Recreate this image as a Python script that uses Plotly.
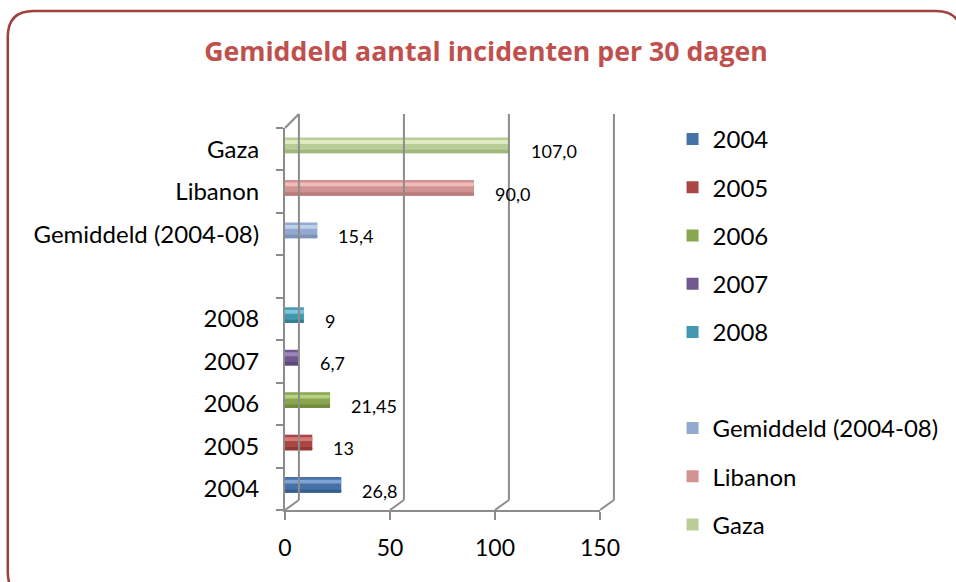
import plotly.graph_objects as go

# ---------------- data ----------------
categories = ["2004", "2005", "2006", "2007", "2008", " ",
              "Gemiddeld (2004-08)", "Libanon", "Gaza"]
series_names = ["2004", "2005", "2006", "2007", "2008",
                "Gemiddeld (2004-08)", "Libanon", "Gaza"]
values = [26.8, 13, 21.45, 6.7, 9, 15.4, 90.0, 107.0]
value_labels = ["26,8", "13", "21,45", "6,7", "9", "15,4", "90,0", "107,0"]
legend_ids = ["legend"] * 5 + ["legend2"] * 3
x_ticks = [0, 50, 100, 150]

# ---------------- styles ----------------
colors = ["#4572A7", "#AA4643", "#89A54E", "#71588F", "#4198AF",
          "#93A9CF", "#D19392", "#B9CD96"]
dark = ["#365E8E", "#8E3936", "#738C40", "#5E4878", "#347F93",
        "#7D93B8", "#B97C7B", "#A0B77E"]
light = ["#7FA3D2", "#D77B78", "#B5D283", "#9C85BA", "#7CC6DA",
         "#BFD0EC", "#EDBDBC", "#DDEBC2"]

FONT = "Lato"
FS = 24
W, H = 956, 582
L, R, T, B = 285, 602, 128, 510
XMAX = 150
DX, DY = 14, 10  # 3-D depth offset of the back wall in px


def px(x):
    return (x - L) / (R - L)


def py(y):
    return (B - y) / (B - T)


fig = go.Figure()

BW = 0.37
BOFF = -BW / 2 + 0.09
for i, (name, val) in enumerate(zip(series_names, values)):
    fig.add_trace(go.Bar(
        y=[name], x=[val], name=name, orientation="h",
        width=BW, offset=BOFF,
        marker=dict(color=colors[i], line=dict(color=colors[i], width=0)),
        legend=legend_ids[i], legendgroup=name, hoverinfo="x+y",
    ))
    # shading bands for a cylinder look
    fig.add_trace(go.Bar(
        y=[name], x=[val], orientation="h", showlegend=False,
        width=0.08, offset=BOFF,
        marker=dict(color=dark[i], line=dict(width=0), cornerradius=2),
        hoverinfo="skip",
    ))
    fig.add_trace(go.Bar(
        y=[name], x=[val], orientation="h", showlegend=False,
        width=0.09, offset=BOFF + BW - 0.15,
        marker=dict(color=light[i], line=dict(width=0), cornerradius=3),
        hoverinfo="skip",
    ))

# value labels
for name, val, lab in zip(series_names, values, value_labels):
    fig.add_annotation(x=val, y=categories.index(name), text=lab, showarrow=False,
                       xanchor="left", yanchor="middle", xshift=19, yshift=-2,
                       font=dict(family=FONT, size=18, color="#000000"))

shapes = []
frame = dict(color="#8C8C8C", width=2)
# back-wall grid lines with floor diagonals
for v in x_ticks:
    xv = L + v / XMAX * (R - L)
    shapes.append(dict(type="line", xref="paper", yref="paper",
                       x0=px(xv), y0=py(B), x1=px(xv + DX), y1=py(B - DY),
                       line=frame))
    shapes.append(dict(type="line", xref="paper", yref="paper",
                       x0=px(xv + DX), y0=py(B - DY), x1=px(xv + DX), y1=py(T - 14),
                       line=frame))
# top-left diagonal of side wall
shapes.append(dict(type="line", xref="paper", yref="paper",
                   x0=px(L), y0=py(T), x1=px(L + DX), y1=py(T - 14),
                   line=frame))

# rounded chart border
bx0, by0, bx1, by1, rr = 6, 11, 966, 598, 26
path = (f"M {px(bx0 + rr)},{py(by0)} L {px(bx1 - rr)},{py(by0)} "
        f"Q {px(bx1)},{py(by0)} {px(bx1)},{py(by0 + rr)} "
        f"L {px(bx1)},{py(by1 - rr)} Q {px(bx1)},{py(by1)} {px(bx1 - rr)},{py(by1)} "
        f"L {px(bx0 + rr)},{py(by1)} Q {px(bx0)},{py(by1)} {px(bx0)},{py(by1 - rr)} "
        f"L {px(bx0)},{py(by0 + rr)} Q {px(bx0)},{py(by0)} {px(bx0 + rr)},{py(by0)} Z")
shapes.append(dict(type="path", xref="paper", yref="paper", path=path,
                   line=dict(color="#A0403D", width=2.5), layer="above"))

fig.update_layout(
    width=W, height=H,
    margin=dict(l=L, r=W - R, t=T, b=H - B, pad=0),
    paper_bgcolor="white", plot_bgcolor="rgba(0,0,0,0)",
    barmode="overlay",
    font=dict(family=FONT, size=FS, color="#000000"),
    title=dict(text="Gemiddeld aantal incidenten per 30 dagen",
               font=dict(family="Open Sans", size=26.7, color="#C0504D", weight="bold"),
               x=486 / W, xref="container", xanchor="center",
               y=1 - 52 / H, yref="container", yanchor="middle"),
    xaxis=dict(range=[0, XMAX], tickvals=x_ticks, showgrid=False, zeroline=False,
               showline=True, linecolor="#8C8C8C", linewidth=2,
               ticks="outside", ticklen=8, tickwidth=2, tickcolor="#8C8C8C",
               tickfont=dict(family=FONT, size=23), ticklabelstandoff=8),
    yaxis=dict(type="category", categoryorder="array", categoryarray=categories,
               range=[-0.5, len(categories) - 0.5], showgrid=False, zeroline=False,
               showline=True, linecolor="#8C8C8C", linewidth=2,
               ticks="outside", ticklen=7, tickwidth=2, tickcolor="#8C8C8C",
               tickson="boundaries", tickfont=dict(family=FONT, size=FS),
               ticklabelstandoff=19),
    legend=dict(x=px(675), xanchor="left", y=py(117), yanchor="top",
                traceorder="grouped", tracegroupgap=14,
                font=dict(family=FONT, size=FS), bgcolor="rgba(0,0,0,0)"),
    legend2=dict(x=px(675), xanchor="left", y=py(406), yanchor="top",
                 traceorder="grouped", tracegroupgap=14,
                 font=dict(family=FONT, size=FS), bgcolor="rgba(0,0,0,0)"),
    shapes=shapes,
    showlegend=True,
)

fig.write_html("out.html", config={"displayModeBar": False},
               post_script="document.body.style.margin='0px';")
